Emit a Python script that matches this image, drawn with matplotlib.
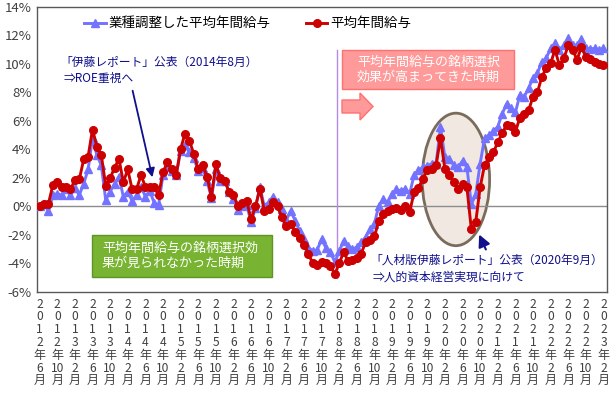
import numpy as np
import matplotlib
matplotlib.use("Agg")
import matplotlib.pyplot as plt
from matplotlib.patches import Ellipse, Rectangle, Polygon

plt.rcParams['font.family'] = ['Noto Sans CJK JP', 'DejaVu Sans']

# monthly data, 2012/6 .. 2023/2 (129 months), y/y change in %
adjusted_salary = [
    0.0, 0.2, -0.35, 0.8, 0.9, 0.8, 1.2, 0.8, 1.3, 0.8,
    1.6, 2.6, 4.8, 3.6, 2.9, 0.45, 1.05, 1.6, 2.1, 0.7,
    1.05, 0.4, 0.8, 1.4, 0.7, 1.1, 0.25, 0.1, 2.2, 2.8,
    2.5, 2.2, 3.9, 4.3, 3.8, 3.4, 2.5, 2.7, 1.8, 0.6,
    2.6, 1.8, 1.8, 1.05, 0.55, -0.25, 0.05, 0.1, -1.1, -0.1,
    1.4, 0.0, 0.3, 0.7, 0.35, -0.2, -0.95, -0.3, -1.0, -1.7,
    -2.3, -2.9, -3.1, -3.05, -2.3, -2.9, -3.2, -3.9, -3.15, -2.4,
    -2.75, -3.0, -2.85, -2.5, -2.15, -1.6, -1.2, 0.05, 0.5, 0.3,
    0.9, 1.2, 1.1, 1.25, 0.9, 2.2, 2.55, 2.75, 2.85, 3.0,
    3.0, 5.6, 3.45, 3.35, 2.9, 2.75, 3.2, 2.75, 0.15, 0.85,
    3.0, 4.8, 5.0, 5.3, 5.6, 6.5, 7.2, 6.9, 6.6, 7.8,
    7.7, 8.3, 9.0, 9.35, 10.15, 10.4, 11.1, 11.45, 11.0, 11.3,
    11.8, 11.35, 11.3, 11.75, 11.1, 11.05, 11.1, 11.0, 11.1,
]
avg_salary = [
    0.0, 0.15, 0.2, 1.5, 1.7, 1.4, 1.4, 1.2, 1.85, 1.9,
    3.3, 3.5, 5.4, 4.2, 3.6, 1.45, 2.0, 2.7, 3.35, 1.7,
    2.6, 1.2, 1.2, 2.2, 1.4, 1.35, 1.35, 0.8, 2.4, 3.1,
    2.6, 2.2, 4.05, 5.1, 4.6, 3.7, 2.6, 2.9, 2.1, 0.7,
    2.95, 2.0, 1.8, 1.05, 0.8, 0.07, 0.25, 0.4, -0.9, 0.0,
    1.25, -0.3, -0.15, 0.35, 0.0, -0.75, -1.4, -1.2, -1.8, -2.2,
    -2.7, -3.3, -4.0, -4.1, -3.9, -4.0, -4.15, -4.75, -4.0, -3.2,
    -3.8, -3.75, -3.6, -3.3, -2.5, -2.35, -2.1, -1.0, -0.5, -0.3,
    -0.15, -0.1, -0.25, 0.05, -0.4, 1.0, 1.3, 1.95, 2.55, 2.65,
    2.9, 4.8, 2.65, 2.2, 1.7, 1.25, 1.6, 1.35, -1.6, -1.1,
    1.35, 2.9, 3.45, 3.8, 4.5, 5.15, 5.7, 5.65, 5.25, 6.2,
    6.5, 6.75, 7.7, 8.0, 9.1, 9.7, 10.05, 11.0, 9.9, 10.4,
    11.3, 11.0, 10.3, 11.2, 10.5, 10.35, 10.15, 10.0, 9.95,
]
tick_labels = [
    '2012年6月', '2012年10月', '2013年2月', '2013年6月', '2013年10月',
    '2014年2月', '2014年6月', '2014年10月', '2015年2月', '2015年6月',
    '2015年10月', '2016年2月', '2016年6月', '2016年10月', '2017年2月',
    '2017年6月', '2017年10月', '2018年2月', '2018年6月', '2018年10月',
    '2019年2月', '2019年6月', '2019年10月', '2020年2月', '2020年6月',
    '2020年10月', '2021年2月', '2021年6月', '2021年10月', '2022年2月',
    '2022年6月', '2022年10月', '2023年2月',
]
y_ticks = [-6, -4, -2, 0, 2, 4, 6, 8, 10, 12, 14]

navy = '#10108C'


def vertical(lbl):
    y, rest = lbl.split('年')
    return '\n'.join(list(y) + ['年', rest.rstrip('月'), '月'])


def px(x, y):
    # pixel position in the 610x398 picture -> axes fraction
    return ((x - 37) / 570.0, (292 - y) / 285.0)


fig = plt.figure(figsize=(6.1, 3.98), dpi=100)
ax = fig.add_axes([37 / 610, 1 - 292 / 398, 570 / 610, 285 / 398])

x = np.arange(len(avg_salary))

ax.add_patch(Ellipse((94.5, 1.9), 15.3, 9.3, facecolor='#F1E8E1',
                     edgecolor='#7A6C5D', lw=2, zorder=1))
ax.axhline(0, color='#8C8C8C', lw=1, zorder=1)
ax.plot([67.5, 67.5], [-5.0, 11.0], color='#B48CE6', lw=1, zorder=1)

ax.plot(x, adjusted_salary, color='#7373FF', lw=2.1, marker='^', ms=5.5,
        label='業種調整した平均年間給与', zorder=3)
ax.plot(x, avg_salary, color='#CC0000', lw=2.1, marker='o', ms=5.5,
        label='平均年間給与', zorder=4)

ax.set_xlim(-0.6, 128.8)
ax.set_ylim(-6, 14)
ax.set_yticks(y_ticks)
ax.set_yticklabels(['%d%%' % v for v in y_ticks], fontsize=9.5, color='#404040')
ax.set_xticks(x[::4])
ax.set_xticklabels([vertical(t) for t in tick_labels], fontsize=8.7,
                   linespacing=0.98, color='#404040', va='top')
ax.tick_params(axis='both', length=0)
ax.tick_params(axis='y', pad=4)
ax.tick_params(axis='x', pad=4)
for s in ax.spines.values():
    s.set_color('#595959')
    s.set_linewidth(1)

ax.legend(loc='upper left', bbox_to_anchor=(0.062, 1.01), ncol=2,
          frameon=False, fontsize=9.7, handlelength=1.6, columnspacing=2.6,
          handletextpad=0.2)

# 伊藤レポート
ax.text(*px(60, 62), '「伊藤レポート」公表（2014年8月）', transform=ax.transAxes,
        fontsize=8.5, color=navy, va='center', ha='left')
ax.text(*px(64, 78), '⇒ROE重視へ', transform=ax.transAxes,
        fontsize=8.5, color=navy, va='center', ha='left')
ax.annotate('', xy=px(153, 180), xytext=px(132, 88),
            xycoords='axes fraction', textcoords='axes fraction',
            arrowprops=dict(arrowstyle='-|>', color=navy, lw=1.3,
                            mutation_scale=13), zorder=6)

# green box
g0 = px(92, 277)
g1 = px(272, 235)
ax.add_patch(Rectangle(g0, g1[0] - g0[0], g1[1] - g0[1], transform=ax.transAxes,
                       facecolor='#78B431', edgecolor='#5E9426', lw=1, zorder=5))
ax.text(*px(102, 256), '平均年間給与の銘柄選択効\n果が見られなかった時期',
        transform=ax.transAxes, fontsize=9.4, color='white', va='center',
        ha='left', linespacing=1.25, zorder=6)

# pink box and arrow
p0 = px(342, 89)
p1 = px(514, 50)
ax.add_patch(Rectangle(p0, p1[0] - p0[0], p1[1] - p0[1], transform=ax.transAxes,
                       facecolor='#FF9A9A', edgecolor='#FF7070', lw=1, zorder=5))
ax.text(*px(357, 70), '平均年間給与の銘柄選択\n効果が高まってきた時期',
        transform=ax.transAxes, fontsize=9.4, color='white', va='center',
        ha='left', linespacing=1.25, zorder=6)
arrow_pts = [px(342, 100), px(360, 100), px(360, 93), px(373, 106.5),
             px(360, 120), px(360, 113), px(342, 113)]
ax.add_patch(Polygon(arrow_pts, closed=True, transform=ax.transAxes,
                     facecolor='#FF9A9A', edgecolor='#FF7070', lw=1, zorder=5))

# 人材版伊藤レポート
ax.text(*px(370, 260), '「人材版伊藤レポート」公表（2020年9月）', transform=ax.transAxes,
        fontsize=8.5, color=navy, va='center', ha='left', zorder=6)
ax.text(*px(373, 277), '⇒人的資本経営実現に向けて', transform=ax.transAxes,
        fontsize=8.5, color=navy, va='center', ha='left', zorder=6)
ax.annotate('', xy=px(478, 232), xytext=px(487, 252),
            xycoords='axes fraction', textcoords='axes fraction',
            arrowprops=dict(arrowstyle='-|>', color=navy, lw=1.5,
                            mutation_scale=18), zorder=6)

fig.savefig('out.png', dpi=100)
